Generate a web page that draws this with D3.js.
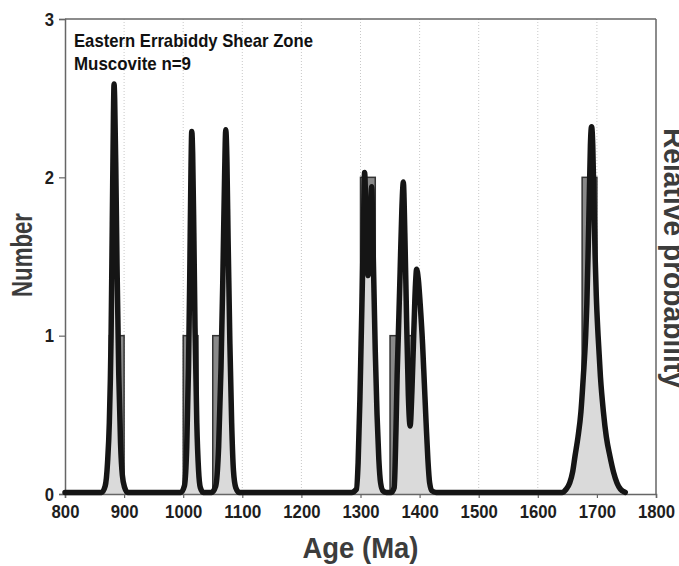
<!DOCTYPE html>
<html>
<head>
<meta charset="utf-8">
<script src="https://cdn.jsdelivr.net/npm/d3@7"></script>
<style>
  html, body { margin: 0; padding: 0; background: #fff; }
  svg text { font-family: 'Liberation Sans Narrow', 'Arial Narrow', 'Liberation Sans', sans-serif; font-weight: bold; }
</style>
</head>
<body>
<div id="chart"></div>
<script>
// Datos
const binStart = [875, 1000, 1050, 1300, 1350, 1375, 1675];
const binCount = [1, 1, 1, 2, 1, 1, 2];
const binWidth = 25;

// Curva de probabilidad relativa (edad, valor en unidades del eje izquierdo)
const curveAge = [800, 850, 862,
  868, 872, 875, 878, 880, 882, 883, 884, 886, 888, 891, 894, 897, 901, 906,
  950, 996,
  1002, 1006, 1009, 1011, 1013, 1014.5, 1016, 1018, 1020, 1023, 1026, 1029, 1034,
  1048, 1055, 1060, 1064, 1067, 1070, 1072, 1074, 1076, 1079, 1082, 1085, 1089, 1095,
  1200, 1285,
  1293, 1296, 1299, 1301, 1303, 1305, 1307, 1309, 1311, 1313, 1315, 1317, 1319, 1321, 1323, 1325, 1328, 1331, 1334, 1338, 1344,
  1352, 1357, 1360, 1362, 1364, 1367, 1370, 1372.5, 1375, 1378, 1381, 1384, 1387, 1390, 1393, 1395, 1398, 1401, 1405, 1408, 1411, 1414, 1417, 1421, 1428,
  1500, 1632,
  1641, 1648, 1654, 1659, 1663, 1668, 1673, 1677, 1681, 1683, 1685, 1687, 1689, 1691, 1693, 1695, 1697, 1699, 1702, 1706, 1711, 1716, 1722, 1728, 1734, 1740, 1748];
const curveProb = [0.01, 0.01, 0.01,
  0.05, 0.2, 0.45, 1.0, 1.7, 2.4, 2.59, 2.5, 2.05, 1.45, 0.75, 0.32, 0.12, 0.04, 0.01,
  0.01, 0.01,
  0.05, 0.3, 0.8, 1.35, 2.0, 2.29, 2.15, 1.65, 1.05, 0.45, 0.15, 0.04, 0.01,
  0.01, 0.05, 0.3, 0.8, 1.35, 2.0, 2.30, 2.1, 1.6, 0.95, 0.45, 0.15, 0.04, 0.01,
  0.01, 0.01,
  0.03, 0.2, 0.6, 0.95, 1.3, 1.7, 2.03, 1.8, 1.5, 1.38, 1.55, 1.8, 1.94, 1.6, 1.25, 0.9, 0.5, 0.22, 0.07, 0.02, 0.01,
  0.01, 0.04, 0.4, 0.75, 1.0, 1.4, 1.8, 1.97, 1.65, 1.1, 0.62, 0.43, 0.65, 1.0, 1.32, 1.42, 1.35, 1.2, 0.95, 0.7, 0.45, 0.22, 0.07, 0.02, 0.01,
  0.01, 0.01,
  0.01, 0.03, 0.07, 0.14, 0.24, 0.36, 0.52, 0.74, 1.0, 1.2, 1.5, 1.85, 2.2, 2.32, 2.2, 1.85, 1.5, 1.25, 1.0, 0.74, 0.52, 0.36, 0.24, 0.14, 0.07, 0.03, 0.01];

const xTicks = [800, 900, 1000, 1100, 1200, 1300, 1400, 1500, 1600, 1700, 1800];
const yTicks = [0, 1, 2, 3];

const titleLines = ['Eastern Errabiddy Shear Zone', 'Muscovite n=9'];
const titleWidths = [239, 117];

const W = 679, H = 566;
let margin = {top: 19, right: 23, bottom: 72, left: 65},
    width = W - margin.left - margin.right,
    height = H - margin.top - margin.bottom;

let svg = d3.select('#chart')
  .append('svg')
    .attr('width', W)
    .attr('height', H);

let g = svg.append('g')
    .attr('transform', 'translate(' + margin.left + ',' + margin.top + ')');

let x = d3.scaleLinear()
    .domain([800, 1800])
    .range([0, width]);

let y = d3.scaleLinear()
    .domain([0, 3])
    .range([height, 0]);

//Rejilla punteada
g.selectAll('.grid')
  .data(xTicks.slice(1, -1))
  .enter()
  .append('line')
    .attr('x1', d => x(d)).attr('x2', d => x(d))
    .attr('y1', 0).attr('y2', height)
    .attr('stroke', '#c8c8c8')
    .attr('stroke-width', 1)
    .attr('stroke-dasharray', '1,2');

//Histograma
let bins = binStart.map((s, i) => ({start: s, n: binCount[i]}));
g.selectAll('.bar')
  .data(bins)
  .enter()
  .append('rect')
    .attr('x', d => x(d.start))
    .attr('y', d => y(d.n))
    .attr('width', d => x(d.start + binWidth) - x(d.start))
    .attr('height', d => y(0) - y(d.n))
    .attr('fill', '#8a8a8a')
    .attr('stroke', '#333')
    .attr('stroke-width', 1.5);

//Curva de probabilidad
let pts = curveAge.map((a, i) => [a, curveProb[i]]);
let area = d3.area()
    .x(d => x(d[0]))
    .y0(y(0))
    .y1(d => y(d[1]))
    .curve(d3.curveMonotoneX);
let line = d3.line()
    .x(d => x(d[0]))
    .y(d => y(d[1]))
    .curve(d3.curveMonotoneX);

g.append('path')
    .datum(pts)
    .attr('d', area)
    .attr('fill', '#dadada');

//Ejes
let xAxis = d3.axisBottom(x).tickValues(xTicks).tickSize(4).tickPadding(7).tickFormat(d3.format('d'));
let yAxis = d3.axisLeft(y).tickValues(yTicks).tickSize(6).tickPadding(5).tickFormat(d3.format('d'));

let gx = g.append('g')
    .attr('transform', 'translate(0,' + height + ')')
    .call(xAxis);
let gy = g.append('g').call(yAxis);

[gx, gy].forEach(a => {
  a.select('.domain').attr('stroke', '#666').attr('stroke-width', 1.5);
  a.selectAll('.tick line').attr('stroke', '#666').attr('stroke-width', 1.2);
  a.selectAll('.tick text')
    .attr('fill', '#1e1e1e')
    .style('font-size', '19px')
    .attr('lengthAdjust', 'spacingAndGlyphs')
    .attr('textLength', d => String(d).length * 9.3);
});

//Bordes superior y derecho
g.append('line')
    .attr('x1', 0).attr('x2', width).attr('y1', 0).attr('y2', 0)
    .attr('stroke', '#666').attr('stroke-width', 1.5);
g.append('line')
    .attr('x1', width).attr('x2', width).attr('y1', 0).attr('y2', height)
    .attr('stroke', '#666').attr('stroke-width', 1.5);

g.append('path')
    .datum(pts)
    .attr('d', line)
    .attr('fill', 'none')
    .attr('stroke', '#151515')
    .attr('stroke-width', 5.5)
    .attr('stroke-linejoin', 'round')
    .attr('stroke-linecap', 'round');

//Titulo
g.selectAll('.title')
  .data(titleLines)
  .enter()
  .append('text')
    .attr('x', 9)
    .attr('y', (d, i) => 28 + i * 23)
    .attr('fill', '#111')
    .style('font-size', '19px')
    .attr('lengthAdjust', 'spacingAndGlyphs')
    .attr('textLength', (d, i) => titleWidths[i])
    .text(d => d);

//Titulos de los ejes
svg.append('text')
    .attr('transform', 'translate(32,255) rotate(-90)')
    .attr('text-anchor', 'middle')
    .attr('fill', '#3c3c3c')
    .style('font-size', '29px')
    .attr('lengthAdjust', 'spacingAndGlyphs')
    .attr('textLength', 84)
    .text('Number');

svg.append('text')
    .attr('x', margin.left + width / 2)
    .attr('y', 558)
    .attr('text-anchor', 'middle')
    .attr('fill', '#3c3c3c')
    .style('font-size', '30px')
    .attr('lengthAdjust', 'spacingAndGlyphs')
    .attr('textLength', 116)
    .text('Age (Ma)');

svg.append('text')
    .attr('transform', 'translate(664,258) rotate(90)')
    .attr('text-anchor', 'middle')
    .attr('fill', '#3c3c3c')
    .style('font-size', '30px')
    .attr('lengthAdjust', 'spacingAndGlyphs')
    .attr('textLength', 260)
    .text('Relative probability');
</script>
</body>
</html>
